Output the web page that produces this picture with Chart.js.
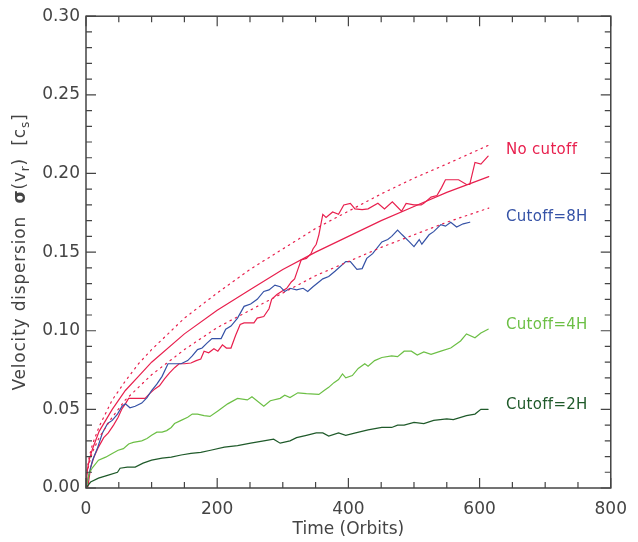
<!DOCTYPE html>
<html>
<head>
<meta charset="utf-8">
<script src="https://cdn.jsdelivr.net/npm/chart.js@4/dist/chart.umd.min.js"></script>
<style>
  html, body { margin: 0; padding: 0; background: #fff; }
  #wrap { width: 638px; height: 542px; }
</style>
</head>
<body>
<div id="wrap"><canvas id="chart" width="638" height="542"></canvas></div>
<script>
// values (time in orbits, sigma in units of c_s)
const noCutoffT = [0, 3, 7, 12, 19, 27, 34, 42, 49, 55, 60, 65, 72, 82, 90, 97, 105, 112, 120, 127, 135, 142, 150, 160, 168, 175, 180, 187, 195, 201, 208, 214, 221, 228, 235, 241, 256, 261, 271, 279, 283, 291, 298, 306, 313, 318, 323, 328, 336, 343, 346, 351, 355, 361, 366, 376, 385, 393, 403, 410, 421, 430, 445, 455, 467, 481, 488, 500, 511, 515, 526, 535, 542, 548, 557, 568, 580, 585, 593, 602, 613];
const noCutoffV = [0, 0.001, 0.013, 0.0195, 0.026, 0.032, 0.035, 0.040, 0.045, 0.0505, 0.0535, 0.057, 0.057, 0.057, 0.057, 0.060, 0.063, 0.065, 0.0695, 0.073, 0.0765, 0.079, 0.079, 0.0795, 0.081, 0.082, 0.087, 0.086, 0.0885, 0.087, 0.091, 0.089, 0.089, 0.097, 0.104, 0.105, 0.105, 0.108, 0.109, 0.114, 0.120, 0.123, 0.125, 0.127, 0.131, 0.133, 0.139, 0.145, 0.146, 0.149, 0.152, 0.155, 0.161, 0.174, 0.172, 0.1755, 0.174, 0.180, 0.181, 0.1775, 0.177, 0.1775, 0.181, 0.1775, 0.182, 0.176, 0.181, 0.180, 0.180, 0.181, 0.185, 0.186, 0.191, 0.196, 0.196, 0.196, 0.193, 0.193, 0.207, 0.206, 0.211];

const cut8T = [0, 5, 10, 18, 25, 33, 40, 48, 55, 60, 67, 75, 85, 93, 100, 108, 116, 125, 135, 145, 155, 162, 170, 177, 184, 192, 196, 206, 213, 221, 231, 241, 251, 261, 271, 279, 288, 296, 303, 311, 321, 331, 338, 346, 355, 361, 370, 380, 396, 403, 413, 421, 428, 437, 451, 460, 466, 475, 482, 493, 500, 508, 512, 523, 530, 541, 548, 556, 565, 575, 585];
const cut8V = [0, 0.0095, 0.0177, 0.026, 0.035, 0.041, 0.043, 0.047, 0.052, 0.0535, 0.051, 0.052, 0.054, 0.0575, 0.062, 0.066, 0.071, 0.079, 0.079, 0.079, 0.081, 0.084, 0.088, 0.089, 0.092, 0.095, 0.095, 0.095, 0.101, 0.103, 0.108, 0.1155, 0.117, 0.120, 0.125, 0.126, 0.129, 0.128, 0.125, 0.127, 0.126, 0.127, 0.125, 0.128, 0.131, 0.133, 0.1345, 0.138, 0.144, 0.144, 0.139, 0.1395, 0.146, 0.149, 0.1565, 0.158, 0.160, 0.164, 0.161, 0.1565, 0.1535, 0.158, 0.155, 0.161, 0.163, 0.1675, 0.1665, 0.169, 0.166, 0.168, 0.169];

const cut4T = [0, 5, 10, 19, 30, 40, 49, 57, 65, 72, 85, 93, 100, 108, 116, 123, 130, 135, 145, 155, 162, 170, 180, 189, 201, 216, 231, 246, 253, 271, 281, 296, 303, 311, 323, 336, 355, 363, 370, 378, 385, 391, 396, 406, 415, 425, 430, 440, 451, 466, 475, 485, 496, 505, 515, 526, 541, 556, 571, 580, 593, 602, 613];
const cut4V = [0, 0.0095, 0.013, 0.0177, 0.0196, 0.022, 0.024, 0.025, 0.028, 0.029, 0.030, 0.0315, 0.0335, 0.0355, 0.0355, 0.0365, 0.0385, 0.041, 0.043, 0.045, 0.047, 0.047, 0.046, 0.0455, 0.049, 0.0535, 0.057, 0.056, 0.058, 0.052, 0.0555, 0.057, 0.059, 0.0575, 0.0605, 0.060, 0.0595, 0.062, 0.064, 0.067, 0.069, 0.0725, 0.070, 0.0715, 0.076, 0.079, 0.0775, 0.081, 0.083, 0.084, 0.0835, 0.087, 0.087, 0.0845, 0.0865, 0.085, 0.087, 0.089, 0.0935, 0.098, 0.0955, 0.0985, 0.101];

const cut2T = [0, 7, 19, 34, 48, 52, 63, 75, 87, 100, 116, 130, 145, 160, 175, 190, 211, 231, 251, 271, 286, 296, 311, 321, 336, 351, 361, 370, 385, 396, 411, 430, 451, 466, 475, 485, 500, 515, 530, 550, 560, 580, 593, 602, 613];
const cut2V = [0, 0.0038, 0.0063, 0.0082, 0.010, 0.0126, 0.0133, 0.0133, 0.0158, 0.0177, 0.019, 0.0196, 0.021, 0.022, 0.0227, 0.024, 0.026, 0.027, 0.0285, 0.030, 0.031, 0.0285, 0.030, 0.032, 0.0335, 0.035, 0.035, 0.033, 0.035, 0.0335, 0.035, 0.037, 0.0385, 0.0385, 0.040, 0.040, 0.0417, 0.041, 0.043, 0.044, 0.0435, 0.046, 0.047, 0.050, 0.050];

// fitted curve for the no-cutoff run and its upper / lower envelopes
const fitT = [0, 2, 5, 10, 20, 40, 60, 80, 100, 150, 200, 250, 300, 350, 400, 450, 500, 550, 614];
const fitV = [0, 0.011, 0.018, 0.025, 0.036, 0.050, 0.062, 0.071, 0.080, 0.098, 0.113, 0.126, 0.139, 0.150, 0.160, 0.170, 0.179, 0.188, 0.198];
const fitHiT = [1.5, 2, 5, 10, 20, 40, 60, 80, 100, 150, 200, 250, 300, 350, 400, 450, 500, 550, 614];
const fitHiV = [0.011, 0.0125, 0.020, 0.028, 0.039, 0.056, 0.068, 0.079, 0.088, 0.108, 0.124, 0.139, 0.152, 0.165, 0.176, 0.187, 0.197, 0.206, 0.218];
const fitLoT = [1.5, 2, 5, 10, 20, 40, 60, 80, 100, 150, 200, 250, 300, 350, 400, 450, 500, 550, 614];
const fitLoV = [0.009, 0.010, 0.016, 0.023, 0.032, 0.045, 0.056, 0.064, 0.072, 0.088, 0.102, 0.113, 0.124, 0.135, 0.144, 0.153, 0.161, 0.169, 0.178];

const seriesNames = ["No cutoff", "Cutoff=8H", "Cutoff=4H", "Cutoff=2H"];

const xTicks = [0, 200, 400, 600, 800];
const yTicks = [0, 0.05, 0.10, 0.15, 0.20, 0.25, 0.30];

const RED = "#e8204e";
const BLUE = "#3552a6";
const LGREEN = "#6cbf45";
const DGREEN = "#1f5a2a";
const AXIS = "#444";

const pts = (t, v) => t.map((x, i) => ({x, y: v[i]}));

function line(label, t, v, color, dash) {
    return {
        label, data: pts(t, v), showLine: true, borderColor: color, borderWidth: 1.2,
        pointRadius: 0, tension: 0, fill: false, borderDash: dash || [], borderCapStyle: "round"
    };
}

const frame = {
    id: "frame",
    afterDraw(chart) {
        const {ctx, chartArea: a, scales: {x, y}} = chart;
        ctx.save();
        ctx.strokeStyle = AXIS;
        ctx.lineWidth = 1.5;
        ctx.strokeRect(a.left, a.top, a.right - a.left, a.bottom - a.top);
        ctx.lineWidth = 1.2;
        ctx.beginPath();
        for (let t = 0; t <= 800; t += 50) {
            const px = x.getPixelForValue(t);
            const len = t % 200 === 0 ? 10 : 6;
            ctx.moveTo(px, a.bottom); ctx.lineTo(px, a.bottom - len);
            ctx.moveTo(px, a.top); ctx.lineTo(px, a.top + len);
        }
        for (let k = 0; k <= 30; k++) {
            const py = y.getPixelForValue(k / 100);
            const len = k % 5 === 0 ? 10 : 6;
            ctx.moveTo(a.left, py); ctx.lineTo(a.left + len, py);
            ctx.moveTo(a.right, py); ctx.lineTo(a.right - len, py);
        }
        ctx.stroke();

        // x title
        ctx.fillStyle = AXIS;
        ctx.font = "17px 'DejaVu Sans'";
        ctx.textAlign = "center";
        ctx.textBaseline = "middle";
        ctx.fillText("Time (Orbits)", (a.left + a.right) / 2, 530);

        // y title with subscripts, drawn rotated
        ctx.save();
        ctx.translate(19, (a.top + a.bottom) / 2);
        ctx.rotate(-Math.PI / 2);
        ctx.textAlign = "left";
        ctx.textBaseline = "alphabetic";
        ctx.letterSpacing = "0.8px";
        const big = "17px 'DejaVu Sans'";
        const sub = "12px 'DejaVu Sans'";
        const bold = "bold 17px 'DejaVu Sans'";
        const parts = [
            ["Velocity dispersion  ", big, 0], ["\u03c3", bold, 0], ["(v", big, 0], ["r", sub, 4],
            [")  [c", big, 0], ["s", sub, 4], ["]", big, 0]
        ];
        let w = 0;
        parts.forEach(p => { ctx.font = p[1]; w += ctx.measureText(p[0]).width; });
        let cx = -w / 2;
        parts.forEach(p => {
            ctx.font = p[1];
            ctx.fillText(p[0], cx, 6 + p[2]);
            cx += ctx.measureText(p[0]).width;
        });
        ctx.restore();

        // series labels
        ctx.font = "15px 'DejaVu Sans'";
        ctx.textAlign = "left";
        ctx.textBaseline = "middle";
        ctx.letterSpacing = "0.3px";
        const colors = [RED, BLUE, LGREEN, DGREEN];
        const labelY = [0.2147, 0.172, 0.1036, 0.053];
        seriesNames.forEach((n, i) => {
            ctx.fillStyle = colors[i];
            ctx.fillText(n, 506, y.getPixelForValue(labelY[i]));
        });
        ctx.restore();
    }
};

new Chart(document.getElementById("chart"), {
    type: "scatter",
    data: {
        datasets: [
            line("fit hi", fitHiT, fitHiV, RED, [1.5, 4.5]),
            line("fit lo", fitLoT, fitLoV, RED, [1.5, 4.5]),
            line("fit", fitT, fitV, RED),
            line(seriesNames[3], cut2T, cut2V, DGREEN),
            line(seriesNames[2], cut4T, cut4V, LGREEN),
            line(seriesNames[1], cut8T, cut8V, BLUE),
            line(seriesNames[0], noCutoffT, noCutoffV, RED)
        ]
    },
    options: {
        responsive: false,
        animation: false,
        layout: {padding: {top: 13, right: 18, left: 0, bottom: 0}},
        plugins: {legend: {display: false}, tooltip: {enabled: false}},
        scales: {
            x: {
                type: "linear", min: 0, max: 800,
                grid: {display: false, drawTicks: false}, border: {display: false},
                afterFit: s => { s.height = 54; },
                afterBuildTicks: s => { s.ticks = xTicks.map(v => ({value: v})); },
                ticks: {color: AXIS, font: {family: "DejaVu Sans", size: 17}, padding: 11, maxRotation: 0}
            },
            y: {
                type: "linear", min: 0, max: 0.3,
                grid: {display: false, drawTicks: false}, border: {display: false},
                afterFit: s => { s.width = 86; },
                afterBuildTicks: s => { s.ticks = yTicks.map(v => ({value: v})); },
                ticks: {color: AXIS, font: {family: "DejaVu Sans", size: 17}, padding: 6,
                    callback: v => v.toFixed(2)}
            }
        }
    },
    plugins: [frame]
});
</script>
</body>
</html>
